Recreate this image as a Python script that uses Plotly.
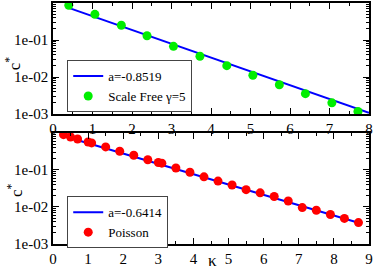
import plotly.graph_objects as go

# Top panel: Scale Free gamma=5
sf_k = [0.40, 1.06, 1.73, 2.38, 3.05, 3.72, 4.40, 5.06, 5.73, 6.39, 7.06, 7.72]
sf_c = [0.87, 0.493, 0.251, 0.130, 0.0675, 0.0365, 0.0203, 0.01117, 0.00616, 0.00354, 0.0020, 0.00117]
sf_fit_k = [0.40, 8.0]
sf_fit_c = [0.741, 0.00107]
sf_fit_label = "a=-0.8519"
sf_label = "Scale Free γ=5"

# Bottom panel: Poisson
po_k = [0.3, 0.5, 0.7, 1.0, 1.1, 1.5, 1.9, 2.3, 2.7, 3.0, 3.1, 3.5, 3.9, 4.3, 4.7, 5.1,
        5.5, 5.9, 6.3, 6.7, 7.1, 7.5, 7.9, 8.3, 8.7]
po_c = [0.90, 0.78, 0.69, 0.57, 0.54, 0.42, 0.32, 0.250, 0.189, 0.160, 0.153, 0.113, 0.0869,
        0.0652, 0.0501, 0.0393, 0.0294, 0.0241, 0.0192, 0.0145, 0.00964, 0.00817, 0.00628,
        0.00492, 0.00379]
po_fit_k = [0.3, 8.7]
po_fit_c = [0.83, 0.00375]
po_fit_label = "a=-0.6414"
po_label = "Poisson"

y_tickvals = [1e-3, 1e-2, 1e-1]
y_ticktext = ["1e-03", "1e-02", "1e-01"]
y_minor = [m * 10 ** e for e in (-3, -2, -1) for m in range(2, 10)]

y_title = "c<sup>*</sup>"
x_title = "κ"

FONT = "Liberation Serif"
BLUE = "#0000ff"

fig = go.Figure()
fig.add_trace(go.Scatter(x=sf_fit_k, y=sf_fit_c, mode="lines", name=sf_fit_label,
                         line=dict(color=BLUE, width=2), xaxis="x", yaxis="y", legend="legend"))
fig.add_trace(go.Scatter(x=sf_k, y=sf_c, mode="markers", name=sf_label,
                         marker=dict(color="#00ee00", size=9), xaxis="x", yaxis="y", legend="legend"))
fig.add_trace(go.Scatter(x=po_fit_k, y=po_fit_c, mode="lines", name=po_fit_label,
                         line=dict(color=BLUE, width=2), xaxis="x2", yaxis="y2", legend="legend2"))
fig.add_trace(go.Scatter(x=po_k, y=po_c, mode="markers", name=po_label,
                         marker=dict(color="#ff0000", size=9), xaxis="x2", yaxis="y2", legend="legend2"))

axis_common = dict(showline=True, linecolor="black", linewidth=1.5, mirror="allticks",
                   ticks="inside", ticklen=6, tickcolor="black", tickwidth=1,
                   showgrid=False, zeroline=False, automargin=False,
                   tickfont=dict(family=FONT, size=15, color="black"))

def xax(rng, anchor):
    d = dict(axis_common)
    d.update(range=rng, dtick=1, tick0=0, anchor=anchor,
             minor=dict(ticks="inside", ticklen=3, dtick=0.5, tickcolor="black", showgrid=False))
    return d

def yax(anchor, domain):
    d = dict(axis_common)
    d.update(type="log", range=[-3, 0], tickvals=y_tickvals, ticktext=y_ticktext,
             anchor=anchor, domain=domain,
             minor=dict(ticks="inside", ticklen=3, tickvals=y_minor, tickcolor="black", showgrid=False))
    return d

legend_common = dict(bgcolor="white", bordercolor="#444", borderwidth=1,
                     font=dict(family=FONT, size=13, color="black"),
                     xanchor="left", yanchor="middle", itemwidth=30, tracegroupgap=0,
                     traceorder="normal")

title_font = dict(family=FONT, size=17, color="black")

fig.update_layout(
    width=374, height=270,
    margin=dict(l=53, r=5, t=3, b=26),
    paper_bgcolor="white", plot_bgcolor="white",
    showlegend=True,
    xaxis=xax([0, 8], "y"),
    yaxis=yax("x", [0.5394, 1.0]),
    xaxis2=xax([0, 9], "y2"),
    yaxis2=yax("x2", [0.0, 0.4606]),
    legend=dict(legend_common, x=0.045, y=0.655),
    legend2=dict(legend_common, x=0.045, y=0.09),
    font=dict(family=FONT),
    annotations=[
        dict(text=y_title, xref="paper", yref="paper", x=-0.126, y=0.751, showarrow=False,
             textangle=-90, font=title_font, xanchor="center", yanchor="middle"),
        dict(text=y_title, xref="paper", yref="paper", x=-0.12, y=0.224, showarrow=False,
             textangle=-90, font=title_font, xanchor="center", yanchor="middle"),
        dict(text=x_title, xref="paper", yref="paper", x=0.505, y=-0.068, showarrow=False,
             font=title_font, xanchor="center", yanchor="middle"),
    ],
)

fig.write_html("out.html", config={"displayModeBar": False},
               post_script="document.body.style.margin='0px';")
